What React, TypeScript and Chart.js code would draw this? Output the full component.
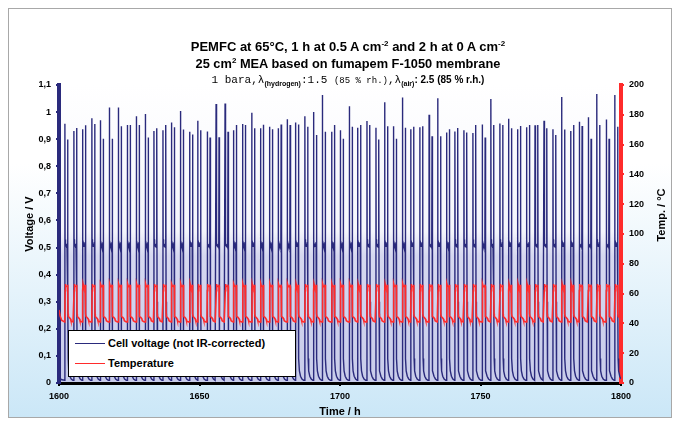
import React, { useEffect, useRef } from "react";
import { Chart, registerables } from "chart.js";

Chart.register(...registerables);

// ---- data ----
const timeTicks = [1600, 1650, 1700, 1750, 1800];
const voltageTicks = [0, 0.1, 0.2, 0.3, 0.4, 0.5, 0.6, 0.7, 0.8, 0.9, 1.0, 1.1];
const tempTicks = [0, 20, 40, 60, 80, 100, 120, 140, 160, 180, 200];

// start of each load cycle (h)
const cycleStartH = [
  1602.1, 1605.3, 1608.4, 1611.7, 1614.7, 1617.9, 1621.1, 1624.3, 1627.5, 1630.7,
  1633.8, 1637.0, 1640.0, 1643.2, 1646.5, 1649.4, 1652.7, 1655.9, 1659.1, 1662.1,
  1665.3, 1668.6, 1671.7, 1674.9, 1678.0, 1681.2, 1684.2, 1687.5, 1690.6, 1693.7,
  1697.0, 1700.1, 1703.3, 1706.3, 1709.6, 1712.8, 1715.9, 1719.0, 1722.2, 1725.2,
  1728.4, 1731.7, 1734.8, 1737.9, 1740.9, 1744.1, 1747.3, 1750.6, 1753.7, 1756.9,
  1760.0, 1763.2, 1766.4, 1769.4, 1772.6, 1775.8, 1778.9, 1782.1, 1785.1, 1788.3,
  1791.4, 1794.7, 1797.8,
];
// open-circuit peak just before load is applied (V)
const ocvBeforeLoadV = [
  0.957, 0.930, 0.937, 0.977, 0.970, 1.017, 1.017, 0.952, 0.985, 0.993,
  0.930, 0.933, 0.962, 1.004, 0.927, 0.968, 0.928, 1.030, 1.032, 0.933,
  0.956, 0.998, 0.940, 0.946, 0.940, 0.974, 0.962, 0.985, 1.000, 1.063,
  0.927, 0.933, 1.022, 0.942, 0.967, 0.942, 1.036, 0.948, 1.054, 0.937,
  0.944, 0.990, 1.051, 0.925, 0.928, 0.933, 0.923, 0.954, 1.048, 0.958,
  0.975, 0.937, 0.944, 0.951, 0.968, 0.937, 1.056, 0.930, 0.964, 0.981,
  1.067, 0.973, 1.063,
];
// open-circuit peak right after the load is switched off (V)
const ocvAfterLoadV = [
  0.899, 0.941, 0.951, 0.956, 0.902, 0.902, 0.948, 0.952, 0.952, 0.906,
  0.940, 0.952, 0.944, 0.936, 0.917, 0.933, 0.906, 0.907, 0.927, 0.952,
  0.952, 0.940, 0.953, 0.937, 0.954, 0.952, 0.954, 0.946, 0.915, 0.927,
  0.952, 0.902, 0.946, 0.952, 0.952, 0.899, 0.948, 0.902, 0.942, 0.946,
  0.948, 0.911, 0.911, 0.937, 0.941, 0.925, 0.952, 0.906, 0.952, 0.952,
  0.940, 0.949, 0.952, 0.952, 0.940, 0.915, 0.936, 0.952, 0.949, 0.902,
  0.952, 0.902, 0.946,
];
const loadDurationH = 1.05;
// voltage during the 0.5 A cm-2 hour: [h after cycle start, V]
const loadPhaseV: [number, number][] = [
  [0.06, 0.53], [0.15, 0.505], [0.3, 0.515], [0.5, 0.505], [0.75, 0.51], [0.9, 0.52], [1.0, 0.5],
];
// voltage during the 0 A period: [h after load off, V]
const offDecayV: [number, number][] = [
  [0.05, 0.3], [0.12, 0.09], [0.3, 0.045], [0.7, 0.025], [1.2, 0.015], [1.8, 0.01],
];
const leadInV: [number, number][] = [[1600, 0.02], [1601, 0.012]];
// temperature over a cycle: [h after cycle start, °C]
const cycleTempC: [number, number][] = [
  [-0.05, 41.0], [0.08, 62], [0.15, 66.5], [0.3, 65.2], [0.6, 64.8], [0.9, 65.0],
  [1.0, 66.0], [1.06, 65.0], [1.12, 46.5], [1.22, 44.6], [1.6, 44.0], [2.0, 43.0],
  [2.15, 41.8], [2.6, 41.2], [2.9, 41.0],
];
const leadInTempC: [number, number][] = [[1600, 49], [1600.4, 45], [1601, 42]];

const NAVY = "#2a2a7c";
const RED = "#ff2b2b";
const FONT = "'Liberation Sans', Arial, sans-serif";

function buildVoltage() {
  const pts = leadInV.map(([x, y]) => ({ x, y }));
  cycleStartH.forEach((t, i) => {
    pts.push({ x: t - 0.03, y: 0.01 });
    pts.push({ x: t, y: ocvBeforeLoadV[i] });
    loadPhaseV.forEach(([dt, v]) => pts.push({ x: t + dt, y: v }));
    const tOff = t + loadDurationH;
    pts.push({ x: tOff, y: ocvAfterLoadV[i] });
    offDecayV.forEach(([dt, v]) => pts.push({ x: tOff + dt, y: v }));
  });
  return pts;
}

function buildTemp() {
  const pts = leadInTempC.map(([x, y]) => ({ x, y }));
  cycleStartH.forEach((t) => {
    cycleTempC.forEach(([dt, v]) => pts.push({ x: t + dt, y: v }));
  });
  return pts;
}

const fmtComma = (v: number) => {
  const r = Math.round(v * 10) / 10;
  return String(r).replace(".", ",");
};

const plotBg = {
  id: "plotBg",
  beforeDraw(chart: any) {
    const { ctx, chartArea: a } = chart;
    const y = chart.scales.y;
    const g = ctx.createLinearGradient(0, a.top, 0, a.bottom);
    const h = a.bottom - a.top;
    const p = (v: number) => Math.min(1, Math.max(0, (y.getPixelForValue(v) - a.top) / h));
    g.addColorStop(0, "rgba(255,255,255,1)");
    g.addColorStop(p(0.56), "rgba(244,245,252,1)");
    g.addColorStop(p(0.47), "rgba(214,216,240,1)");
    g.addColorStop(1, "rgba(200,204,234,1)");
    ctx.save();
    ctx.fillStyle = g;
    ctx.fillRect(a.left, a.top, a.right - a.left, h);
    ctx.restore();
  },
};

const axisTitles = {
  id: "axisTitles",
  afterDraw(chart: any) {
    const { ctx, chartArea: a } = chart;
    ctx.save();
    ctx.fillStyle = "#000";
    ctx.font = `bold 11px ${FONT}`;
    ctx.textAlign = "center";
    ctx.textBaseline = "middle";
    ctx.save();
    ctx.translate(21, 215);
    ctx.rotate(-Math.PI / 2);
    ctx.fillText("Voltage / V", 0, 0);
    ctx.restore();
    ctx.save();
    ctx.translate(653, 206);
    ctx.rotate(-Math.PI / 2);
    ctx.fillText("Temp. / °C", 0, 0);
    ctx.restore();
    ctx.fillText("Time / h", (a.left + a.right) / 2, 403);
    ctx.restore();
  },
};

export default function App() {
  const ref = useRef<HTMLCanvasElement | null>(null);
  useEffect(() => {
    if (!ref.current) return;
    const tickFont = { family: FONT, size: 9, weight: "bold" as const };
    const chart = new Chart(ref.current, {
      type: "line",
      data: {
        datasets: [
          {
            label: "Temperature",
            data: buildTemp(),
            yAxisID: "y1",
            borderColor: RED,
            borderWidth: 1.6,
            pointRadius: 0,
            tension: 0,
          },
          {
            label: "Cell voltage (not IR-corrected)",
            data: buildVoltage(),
            yAxisID: "y",
            borderColor: NAVY,
            borderWidth: 1.4,
            pointRadius: 0,
            tension: 0,
          },
        ],
      },
      options: {
        responsive: false,
        animation: false,
        parsing: false,
        layout: { padding: { top: 76, left: 0, right: 0, bottom: 0 } },
        plugins: { legend: { display: false }, tooltip: { enabled: false }, title: { display: false } },
        scales: {
          x: {
            type: "linear",
            min: 1600,
            max: 1800,
            afterBuildTicks: (s: any) => { s.ticks = timeTicks.map((v) => ({ value: v })); },
            afterFit: (s: any) => { s.height = 34; },
            ticks: { font: tickFont, color: "#000", padding: 5, callback: (v: any) => String(v) },
            grid: { drawOnChartArea: false, tickLength: 3, color: "#000", lineWidth: 2 },
            border: { color: "#000", width: 3 },
          },
          y: {
            position: "left",
            min: 0,
            max: 1.1,
            afterBuildTicks: (s: any) => { s.ticks = voltageTicks.map((v) => ({ value: v })); },
            afterFit: (s: any) => { s.width = 50; },
            ticks: { font: tickFont, color: "#000", padding: 5, callback: (v: any) => fmtComma(Number(v)) },
            grid: { drawOnChartArea: false, tickLength: 3, color: NAVY, lineWidth: 2 },
            border: { color: NAVY, width: 4 },
          },
          y1: {
            position: "right",
            min: 0,
            max: 200,
            afterBuildTicks: (s: any) => { s.ticks = tempTicks.map((v) => ({ value: v })); },
            afterFit: (s: any) => { s.width = 50; },
            ticks: { font: tickFont, color: "#000", padding: 5, callback: (v: any) => String(v) },
            grid: { drawOnChartArea: false, tickLength: 3, color: RED, lineWidth: 2 },
            border: { color: RED, width: 4 },
          },
        },
      },
      plugins: [plotBg, axisTitles],
    });
    return () => chart.destroy();
  }, []);

  const titleBase: React.CSSProperties = {
    position: "absolute",
    left: 8,
    width: 662,
    textAlign: "center",
    fontFamily: FONT,
    fontWeight: "bold",
    color: "#000",
    whiteSpace: "nowrap",
  };
  const sup: React.CSSProperties = { fontSize: 8, verticalAlign: 5, lineHeight: 0 };
  const sub: React.CSSProperties = { fontSize: 7, verticalAlign: -3, lineHeight: 0, fontFamily: FONT, fontWeight: "bold" };
  const mono: React.CSSProperties = { fontFamily: "'Liberation Mono', 'DejaVu Sans Mono', monospace", fontWeight: "normal" };

  return (
    <div
      style={{
        position: "relative",
        width: 662,
        height: 408,
        border: "1px solid #a8a8a8",
        background: "linear-gradient(to bottom, #ffffff 0%, #ffffff 38%, #cbe7f7 100%)",
        overflow: "hidden",
      }}
    >
      <canvas ref={ref} width={662} height={408} style={{ position: "absolute", left: 0, top: 0 }} />
      <div style={{ ...titleBase, top: 30, fontSize: 13, lineHeight: "16px" }}>
        PEMFC at 65°C, 1 h at 0.5 A cm<span style={sup}>-2</span> and 2 h at 0 A cm<span style={sup}>-2</span>
      </div>
      <div style={{ ...titleBase, top: 47, fontSize: 12.8, lineHeight: "16px" }}>
        25 cm<span style={sup}>2</span> MEA based on fumapem F-1050 membrane
      </div>
      <div style={{ ...titleBase, top: 63, fontSize: 10, lineHeight: "16px" }}>
        <span style={{ ...mono, fontSize: 11 }}>1 bara,λ</span>
        <span style={sub}>(hydrogen)</span>
        <span style={{ ...mono, fontSize: 11 }}>:1.5 </span>
        <span style={{ ...mono, fontSize: 9 }}>(85 % rh.)</span>
        <span style={{ ...mono, fontSize: 11 }}>,λ</span>
        <span style={sub}>(air)</span>
        <span>: 2.5 (85 % r.h.)</span>
      </div>
      <div
        style={{
          position: "absolute",
          left: 59,
          top: 321,
          width: 226,
          height: 45,
          border: "1px solid #000",
          background: "#fff",
          fontFamily: FONT,
          fontWeight: "bold",
          fontSize: 11,
          color: "#000",
        }}
      >
        <div style={{ position: "absolute", left: 6, top: 12, width: 30, height: 0, borderTop: `1.5px solid ${NAVY}` }} />
        <div style={{ position: "absolute", left: 39, top: 5, whiteSpace: "nowrap", lineHeight: "14px" }}>
          Cell voltage (not IR-corrected)
        </div>
        <div style={{ position: "absolute", left: 6, top: 32, width: 30, height: 0, borderTop: `1.5px solid ${RED}` }} />
        <div style={{ position: "absolute", left: 39, top: 25, whiteSpace: "nowrap", lineHeight: "14px" }}>
          Temperature
        </div>
      </div>
    </div>
  );
}
